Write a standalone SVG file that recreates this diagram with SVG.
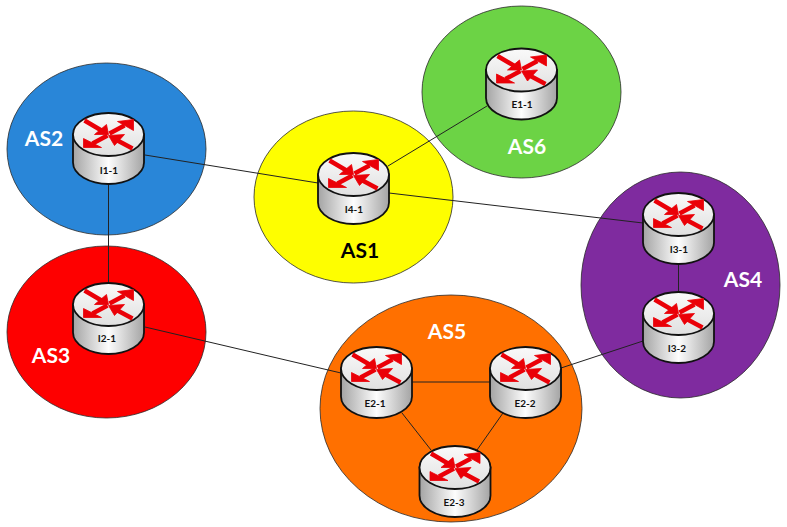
<svg xmlns="http://www.w3.org/2000/svg" width="787" height="527" viewBox="0 0 787 527">
<style>
.as{stroke:#2a2a2a;stroke-width:.8}
.lbl{font:bold 21px Lato,"Liberation Sans",sans-serif;fill:#fff;text-anchor:middle}
.rl{font:bold 10px Lato,"Liberation Sans",sans-serif;fill:#111;text-anchor:middle}
.c line{stroke:#222;stroke-width:1}
.ar{fill:#ea0008;stroke:#ea0008;stroke-width:.8;stroke-linejoin:miter}
.sh{stroke:#ea0008;stroke-width:4.400;fill:none}
</style>
<defs>
<linearGradient id="body" x1="0" x2="1" y1="0" y2="0"><stop offset="0" stop-color="#a4a4a4"/><stop offset=".5" stop-color="#fdfdfd"/><stop offset="1" stop-color="#a4a4a4"/></linearGradient>
<linearGradient id="top" x1="0" x2="0" y1="0" y2="1"><stop offset="0" stop-color="#fafafa"/><stop offset="1" stop-color="#e0e0e0"/></linearGradient>
<g id="router">
<path d="M-35.500 0V28C-35.500 40-19 49.500 0 49.500S35.500 40 35.500 28V0Z" fill="url(#body)" stroke="#111" stroke-width="1.800"/>
<ellipse cx="0" cy="0" rx="35.500" ry="21.500" fill="url(#top)" stroke="#111" stroke-width="1.800"/>
<path class="sh" d="M-24-14L-7-4M1-1L16-9M-1 1L-16 9M24 14L9 6"/>
<path class="ar" d="M0 0L-2-10L-14 0ZM25-15L9-13L25-4ZM-25 13L-25 4L-7 13ZM0 1L16 0L6 11Z"/>
</g>
</defs>
<ellipse class="as" cx="106.500" cy="149" rx="99.500" ry="86" fill="#2986d8"/>
<ellipse class="as" cx="106.500" cy="332" rx="99.500" ry="86" fill="#fe0000"/>
<ellipse class="as" cx="353.500" cy="197" rx="99.500" ry="86" fill="#fefe00"/>
<ellipse class="as" cx="521.500" cy="92" rx="99.500" ry="86" fill="#6cd345"/>
<ellipse class="as" cx="680.500" cy="285" rx="99.500" ry="113" fill="#7f2b9f"/>
<ellipse class="as" cx="451" cy="408.500" rx="131" ry="113.500" fill="#ff7000"/>
<g id="connectors" class="c">
<line x1="145" y1="155" x2="318" y2="183"/>
<line x1="108.500" y1="184" x2="108.500" y2="283"/>
<line x1="145" y1="327" x2="341" y2="373"/>
<line x1="388" y1="166" x2="487" y2="106"/>
<line x1="389" y1="193" x2="643" y2="223"/>
<line x1="678.500" y1="263" x2="678.500" y2="292"/>
<line x1="643" y1="341" x2="561" y2="368"/>
<line x1="412" y1="382" x2="490" y2="382"/>
<line x1="402" y1="413" x2="431" y2="450"/>
<line x1="503" y1="413" x2="477" y2="450"/>
</g>
<text class="lbl" x="44" y="146">AS2</text>
<text class="lbl" x="51" y="363">AS3</text>
<text class="lbl" x="360" y="258" style="fill:#000">AS1</text>
<text class="lbl" x="527" y="154">AS6</text>
<text class="lbl" x="743" y="287">AS4</text>
<text class="lbl" x="447" y="339">AS5</text>
<g id="I1-1"><use href="#router" x="108.500" y="134.500"/><text class="rl" x="109" y="174">I1-1</text></g>
<g id="I2-1"><use href="#router" x="108.500" y="304.500"/><text class="rl" x="107" y="342">I2-1</text></g>
<g id="I4-1"><use href="#router" x="353.500" y="174.500"/><text class="rl" x="354" y="213">I4-1</text></g>
<g id="E1-1"><use href="#router" x="521.500" y="70"/><text class="rl" x="522" y="108">E1-1</text></g>
<g id="I3-1"><use href="#router" x="678.500" y="214.500"/><text class="rl" x="679" y="253">I3-1</text></g>
<g id="I3-2"><use href="#router" x="678.500" y="313.500"/><text class="rl" x="677" y="352">I3-2</text></g>
<g id="E2-1"><use href="#router" x="376.500" y="368.500"/><text class="rl" x="375" y="407">E2-1</text></g>
<g id="E2-2"><use href="#router" x="525.500" y="368.500"/><text class="rl" x="525" y="407">E2-2</text></g>
<g id="E2-3"><use href="#router" x="455" y="467.500"/><text class="rl" x="454" y="506">E2-3</text></g>
</svg>
